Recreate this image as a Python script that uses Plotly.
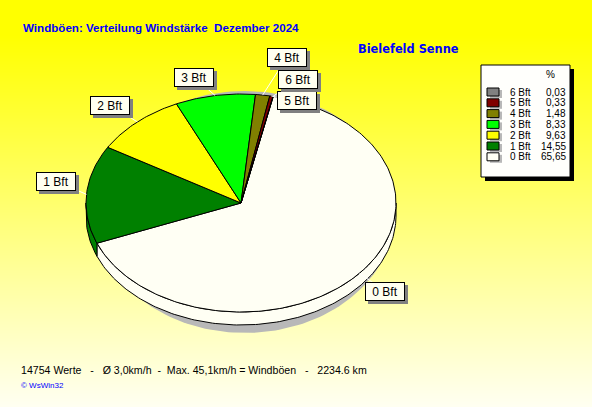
import numpy as np
import plotly.graph_objects as go

# data
categories = ["0 Bft", "1 Bft", "2 Bft", "3 Bft", "4 Bft", "5 Bft", "6 Bft"]
percent = [65.65, 14.55, 9.63, 8.33, 1.48, 0.33, 0.03]
colors = ["#FFFFF4", "#008000", "#FFFF00", "#00FF00", "#808000", "#800000", "#808080"]

title_text = "Windböen: Verteilung Windstärke\u00a0\u00a0Dezember 2024"
station = "Bielefeld Senne"
footer = "14754 Werte \u00a0 - \u00a0 Ø 3,0km/h \u00a0- \u00a0Max. 45,1km/h = Windböen \u00a0 - \u00a0 2234.6 km"

W, H = 592, 407
CX, CY, RX, RY, DEPTH = 241, 203, 155, 109, 13
START = 12.0  # where 0 Bft begins, degrees clockwise from 12 o'clock

# label box centres (layout only)
label_pos = {"0 Bft": (385, 291), "1 Bft": (56, 181), "2 Bft": (110, 105),
             "3 Bft": (194, 77), "4 Bft": (287, 57), "5 Bft": (297, 100),
             "6 Bft": (298, 79)}


def ell(a_deg, dy=0.0):
    a = np.radians(a_deg)
    return CX + RX * np.sin(a), CY - RY * np.cos(a) + dy


def arc(a0, a1, dy=0.0):
    n = max(2, int(abs(a1 - a0)) + 2)
    return ell(np.linspace(a0, a1, n), dy)


bounds = START + 3.6 * np.concatenate([[0], np.cumsum(percent)])

fig = go.Figure()

# background gradient
ys = np.arange(0, H + 1, 2)
zz = np.clip((ys - 35) / (H - 35), 0, 1)
fig.add_trace(go.Heatmap(x=[0, W], y=ys, z=np.column_stack([zz, zz]),
                         colorscale=[[0, "#FFFF00"], [1, "#FFFFF2"]],
                         zmin=0, zmax=1, zsmooth="best", showscale=False,
                         hoverinfo="skip"))

# shadow of the pie
t = np.radians(np.linspace(0, 360, 200))
fig.add_trace(go.Scatter(x=CX + 4 + (RX - 5) * np.sin(t), y=CY + 9 - (RY + 12) * np.cos(t),
                         mode="lines", fill="toself", fillcolor="#B8B8B8",
                         line=dict(width=0), hoverinfo="skip", showlegend=False))

# side of the pie (front half only)
for i, c in enumerate(colors):
    lo, hi = max(bounds[i], 90), min(bounds[i + 1], 270)
    if lo >= hi:
        continue
    ux, uy = arc(lo, hi)
    lx, ly = arc(hi, lo, DEPTH)
    fig.add_trace(go.Scatter(x=np.concatenate([ux, lx, ux[:1]]), y=np.concatenate([uy, ly, uy[:1]]),
                             mode="lines", fill="toself", fillcolor=c,
                             line=dict(color="black", width=1), hoverinfo="skip", showlegend=False))

# top of the pie
for i, (cat, c) in enumerate(zip(categories, colors)):
    ax, ay = arc(bounds[i], bounds[i + 1])
    fig.add_trace(go.Scatter(x=np.concatenate([[CX], ax, [CX]]), y=np.concatenate([[CY], ay, [CY]]),
                             mode="lines", fill="toself", fillcolor=c, name=cat,
                             line=dict(color="black", width=1), showlegend=False,
                             hovertemplate=f"{cat}: {percent[i]:.2f} %<extra></extra>"))

# leader lines
for i, cat in enumerate(categories):
    mx, my = ell((bounds[i] + bounds[i + 1]) / 2)
    lx, ly = label_pos[cat]
    fig.add_trace(go.Scatter(x=[mx, lx], y=[my, ly], mode="lines",
                             line=dict(color="white", width=1),
                             hoverinfo="skip", showlegend=False))

annotations = []
shapes = []

# slice labels with shadow
for cat in categories:
    lx, ly = label_pos[cat]
    common = dict(x=lx, y=ly, xref="x", yref="y", showarrow=False,
                  width=36, height=15, borderpad=1, borderwidth=1)
    annotations.append(dict(common, text="\u00a0", xshift=3, yshift=-3, bgcolor="#808080",
                            bordercolor="#808080", font=dict(size=12)))
    annotations.append(dict(common, text=cat, bgcolor="#FFFFF0", bordercolor="black",
                            font=dict(size=12, color="black")))

# legend box
shapes.append(dict(type="rect", xref="x", yref="y", x0=485, x1=574, y0=69, y1=181,
                   fillcolor="black", line=dict(width=0)))
shapes.append(dict(type="rect", xref="x", yref="y", x0=481, x1=570, y0=65, y1=177,
                   fillcolor="#FFFFFC", line=dict(color="black", width=1)))
annotations.append(dict(x=550, y=74, xref="x", yref="y", text="%", showarrow=False,
                        font=dict(size=10, color="black"), xanchor="center", yanchor="middle"))
for k, i in enumerate(reversed(range(len(categories)))):
    ry = 92 + k * 10.8
    shapes.append(dict(type="rect", xref="x", yref="y", x0=490, x1=502, y0=ry - 2, y1=ry + 6,
                       fillcolor="#B8B8B8", line=dict(width=0)))
    shapes.append(dict(type="rect", xref="x", yref="y", x0=487, x1=499, y0=ry - 4, y1=ry + 4,
                       fillcolor=colors[i], line=dict(color="black", width=1)))
    annotations.append(dict(x=508, y=ry, xref="x", yref="y", text=categories[i], showarrow=False,
                            xanchor="left", yanchor="middle", font=dict(size=10, color="black")))
    annotations.append(dict(x=568, y=ry, xref="x", yref="y",
                            text=f"{percent[i]:.2f}".replace(".", ","), showarrow=False,
                            xanchor="right", yanchor="middle", font=dict(size=10, color="black")))

# texts
annotations.append(dict(x=21, y=27, xref="x", yref="y", text=f"<b>{title_text}</b>", showarrow=False,
                        xanchor="left", yanchor="middle", font=dict(size=11.6, color="#0000FF")))
annotations.append(dict(x=356, y=49, xref="x", yref="y", text=f"<b>{station}</b>", showarrow=False,
                        xanchor="left", yanchor="middle",
                        font=dict(size=11.4, color="#0000FF", family="DejaVu Sans")))
annotations.append(dict(x=19, y=370, xref="x", yref="y", text=footer, showarrow=False,
                        xanchor="left", yanchor="middle", font=dict(size=10.6, color="black")))
annotations.append(dict(x=19, y=385, xref="x", yref="y", text="© WsWin32", showarrow=False,
                        xanchor="left", yanchor="middle", font=dict(size=8, color="#0000FF")))

fig.update_layout(
    width=W, height=H,
    margin=dict(l=0, r=0, t=0, b=0, pad=0),
    paper_bgcolor="#FFFF00", plot_bgcolor="#FFFF00",
    font=dict(family="Liberation Sans", size=11),
    xaxis=dict(range=[0, W], visible=False, fixedrange=True),
    yaxis=dict(range=[H, 0], visible=False, fixedrange=True),
    annotations=annotations, shapes=shapes,
    showlegend=False,
)

# page has a default 8px body margin; drop it so the chart fills the window
fig.write_html("out.html", config={"displayModeBar": False},
               post_script="document.body.style.margin='0px';")
